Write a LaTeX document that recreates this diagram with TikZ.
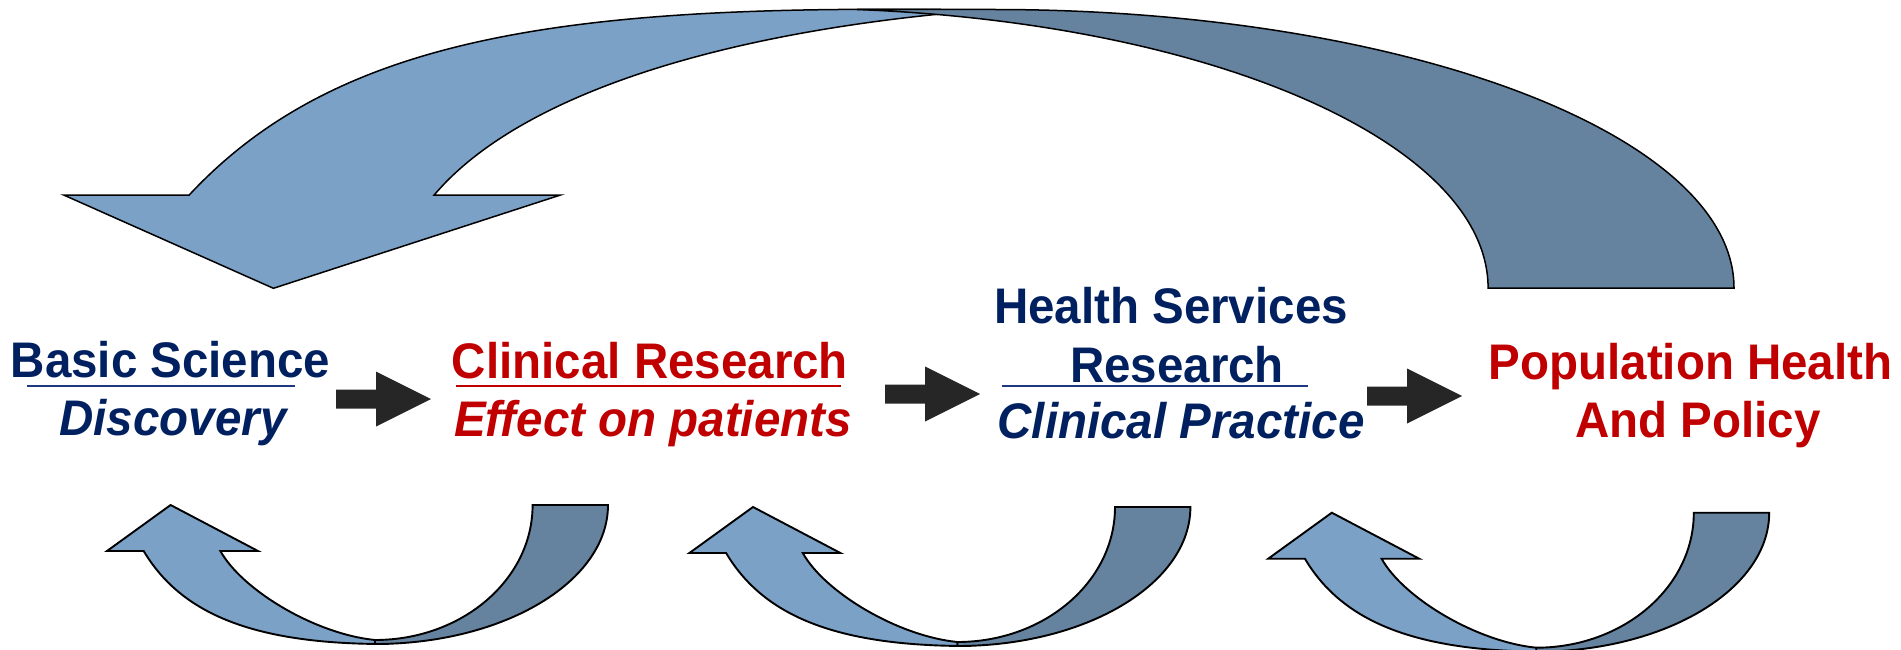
\documentclass[tikz,border=0pt]{standalone}
\usepackage{fontspec}
\newfontfamily\diagfont[FakeStretch=0.95]{Liberation Sans}
\usetikzlibrary{positioning}
\definecolor{navytext}{RGB}{0,32,96}
\definecolor{redtext}{RGB}{192,0,0}
\definecolor{rulenavy}{RGB}{31,56,130}
\definecolor{lightloop}{RGB}{124,161,198}
\definecolor{darkloop}{RGB}{101,130,159}
\definecolor{pushfill}{RGB}{38,38,38}

\begin{document}
\begin{tikzpicture}[
    x=1pt, y=-1pt,
    every node/.style={inner sep=0pt, anchor=base},
    title/.style={font=\diagfont\bfseries\fontsize{50}{58}\selectfont},
    subtitle/.style={font=\diagfont\bfseries\itshape\fontsize{50}{58}\selectfont},
    front/.style={fill=lightloop, draw=black, line width=1.5pt},
    back/.style={fill=darkloop, draw=black, line width=1.5pt},
    push/.style={fill=pushfill},
    rule/.style={line width=2pt}
]
   \useasboundingbox (0,0) rectangle (1901,650);

   % Big loop back to the start
   \filldraw[front] (189.2,195) -- (63.7,195) -- (273.4,288.3) -- (560.5,195) -- (434.2,195)
      .. controls (511.7,103.3) and (691.3,39) .. (940,14) -- (940,9.3) -- (880,9.3)
      .. controls (530,9.3) and (325.2,49) .. (189.2,195) -- cycle;
   \filldraw[back] (1734,288) arc[start angle=0, end angle=-90, x radius=740, y radius=278.5]
      -- (857,9.5) arc[start angle=-84.5, end angle=0, x radius=698, y radius=280] -- cycle;

   % Small loops under each step
   \foreach \dx/\dy in {0/0, 582.4/2, 1161.2/7.7} {
      \begin{scope}[shift={(170.6+\dx,505+\dy)}, line width=1.9pt]
         \filldraw[front, line width=1.9pt] (0,0) -- (87.4,46) -- (49.8,46)
            .. controls (71.4,85) and (144.4,129) .. (204.4,135) -- (214.4,139)
            .. controls (79.4,139) and (9.4,107) .. (-26.9,46) -- (-63.6,46) -- cycle;
         \filldraw[back, line width=1.9pt] (437.4,0) arc[start angle=0, end angle=90, x radius=233, y radius=139]
            -- (204.4,135) arc[start angle=90, end angle=0, x radius=157.6, y radius=135] -- cycle;
      \end{scope}
   }

   % Steps
   \node[title, navytext] (basic) at (170.5,377) {Basic Science};
   \node[subtitle, navytext] (discovery) at (173,435) {Discovery};
   \node[title, redtext] (clinical) at (650,378) {Clinical Research};
   \node[subtitle, redtext] (effect) at (653,436) {Effect on patients};
   \node[title, navytext] (services) at (1171,323) {Health Services};
   \node[title, navytext] (hsr) at (1177,382) {Research};
   \node[subtitle, navytext] (practice) at (1181,438) {Clinical Practice};
   \node[title, redtext] (population) at (1690.5,379) {Population Health};
   \node[title, redtext] (policy) at (1698,437) {And Policy};

   \draw[rule, rulenavy] (27,385.5) -- (295,385.5);
   \draw[rule, redtext] (456,386) -- (840.6,386);
   \draw[rule, rulenavy] (1001.5,386) -- (1307.6,386);

   % Arrows between steps
   \foreach \x/\y in {336/399, 885/394, 1367/396}
      \fill[push] (\x,\y-9.5) -- ++(40,0) -- ++(0,-18) -- ++(55,27.5) -- ++(-55,27.5)
         -- ++(0,-18) -- ++(-40,0) -- cycle;
\end{tikzpicture}
\end{document}
